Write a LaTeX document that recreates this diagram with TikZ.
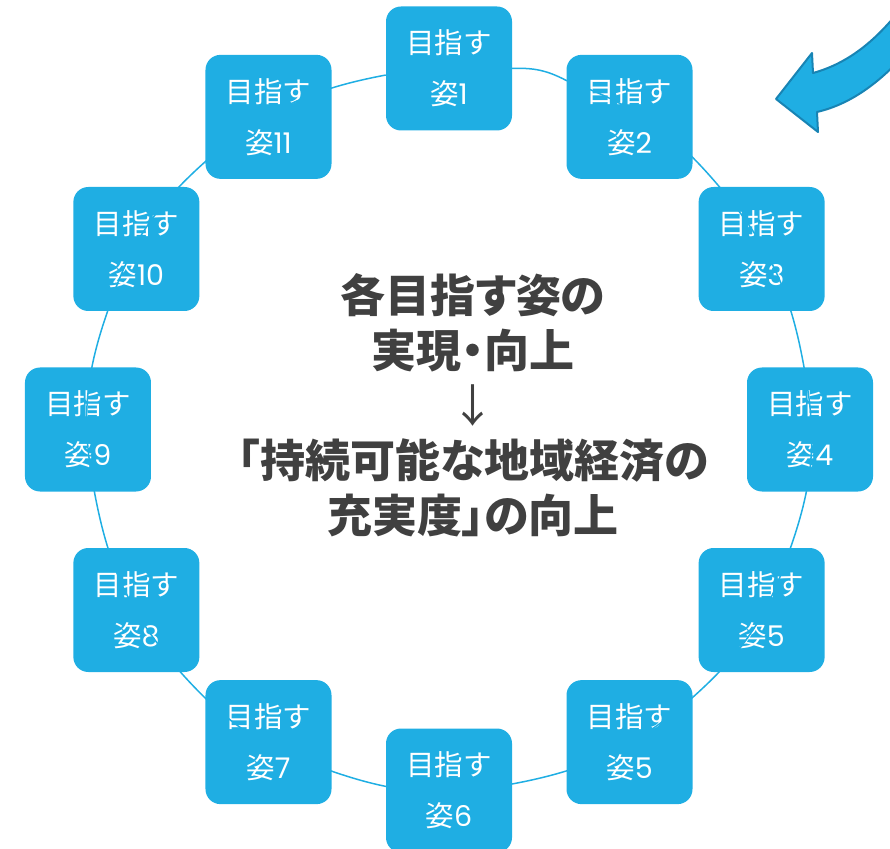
\documentclass[tikz,border=0pt]{standalone}
\usepackage{fontspec}
\newfontfamily\jpfont{Noto Sans CJK JP}
\newfontfamily\jpprop[RawFeature=+palt]{Noto Sans CJK JP}
\newfontfamily\numfont{Poppins}

\definecolor{goalblue}{RGB}{31,174,227}
\definecolor{arrowedge}{RGB}{24,132,180}
\definecolor{maingray}{RGB}{64,64,64}

\newcommand{\sgt}[1]{姿{\numfont #1}}

\begin{document}
\begin{tikzpicture}[x=1pt,y=1pt,
    goal/.style={fill=goalblue,rounded corners=15pt,minimum width=126pt,
      minimum height=124pt,text=white,align=center,
      font=\jpfont\fontsize{28.5}{51}\selectfont},
    ring/.style={goalblue,line width=1.5pt}]
  \useasboundingbox (-449,-418.5) rectangle (441,429.5);
    \coordinate (O)  at (0,0);
  % ring of goals
  \node[goal] (g1)  at ( 90:361) {目指す\\\sgt{1}};
  \node[goal] (g2)  at ( 60:361) {目指す\\\sgt{2}};
  \node[goal] (g3)  at ( 30:361) {目指す\\\sgt{3}};
  \node[goal] (g4)  at (  0:361) {目指す\\\sgt{4}};
  \node[goal] (g5)  at (-30:361) {目指す\\\sgt{5}};
  \node[goal] (g5b) at (-60:361) {目指す\\\sgt{5}};
  \node[goal] (g6)  at (-90:361) {目指す\\\sgt{6}};
  \node[goal] (g7)  at (240:361) {目指す\\\sgt{7}};
  \node[goal] (g8)  at (210:361) {目指す\\\sgt{8}};
  \node[goal] (g9)  at (180:361) {目指す\\\sgt{9}};
  \node[goal] (g10) at (150:361) {目指す\\\sgt{10}};
  \node[goal] (g11) at (120:361) {目指す\\\sgt{11}};
  \draw[ring] (g1) to[bend left=15] (g2) to[bend left=15] (g3)
    to[bend left=15] (g4) to[bend left=15] (g5) to[bend left=15] (g5b)
    to[bend left=15] (g6) to[bend left=15] (g7) to[bend left=15] (g8)
    to[bend left=15] (g9) to[bend left=15] (g10) to[bend left=15] (g11)
    to[bend left=15] (g1);
  % centre text
  \node[text=maingray,align=center,
    font=\jpprop\bfseries\fontsize{45}{55}\selectfont] (aim) at (24,24)
    {各目指す姿の\\実現・向上\\{\mdseries ↓}\\「持続可能な地域経済の\\充実度」の向上};
  % curved arrow
  \draw[arrowedge,fill=goalblue,line width=2pt,line join=round]
    (327,330.5) -- (363,376.5) -- (364,356.5)
    .. controls (395,365) and (425,385) .. (455,425)
    -- (462,382) .. controls (430,345) and (400,325) .. (368,317.5)
    -- (369,297.5) -- cycle;
\end{tikzpicture}
\end{document}
